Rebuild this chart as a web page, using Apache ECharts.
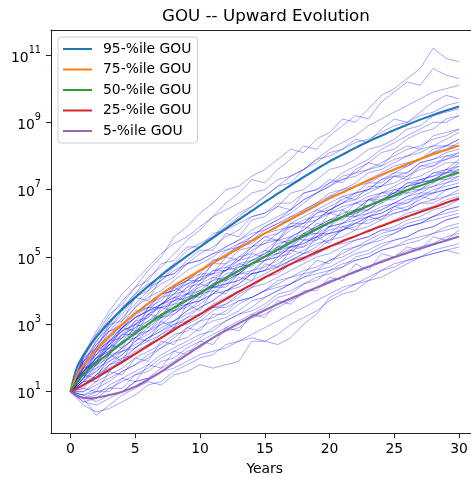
<!DOCTYPE html>
<html>
<head>
<meta charset="utf-8">
<script src="https://cdn.jsdelivr.net/npm/echarts@6/dist/echarts.min.js"></script>
<style>
  html, body { margin: 0; padding: 0; background: #fff; }
  #chart { width: 471px; height: 477px; }
</style>
</head>
<body>
<div id="chart"></div>
<script>
// Simulated GOU paths: log10 of the value at each whole year 0..30
const years = [0,1,2,3,4,5,6,7,8,9,10,11,12,13,14,15,16,17,18,19,20,21,22,23,24,25,26,27,28,29,30];

const paths = [
  [1.0,2.0,2.6,3.2,3.7,4.1,4.6,5.0,5.6,5.9,6.3,6.6,7.0,7.1,7.4,7.6,7.9,8.2,8.1,8.5,8.7,9.1,9.0,9.4,9.8,10.0,10.3,10.6,11.2,10.9,10.8],
  [1.0,1.8,2.5,3.0,3.5,3.9,4.4,4.7,5.1,5.5,5.8,6.2,6.6,6.9,7.3,7.2,7.6,7.9,8.3,8.2,8.6,8.9,9.2,9.1,9.6,9.9,10.2,10.1,10.6,10.4,10.3],
  [1.0,1.9,2.3,2.9,3.3,3.8,4.0,4.5,4.8,5.2,5.4,5.6,6.0,6.3,6.5,6.8,7.1,7.2,7.6,7.8,8.1,8.2,8.5,8.4,8.8,9.1,9.0,9.3,9.6,9.8,9.7],
  [1.0,1.7,2.4,2.8,3.0,3.5,3.9,4.2,4.4,4.8,5.1,5.3,5.6,5.8,6.2,6.3,6.5,6.9,7.0,7.3,7.6,7.7,7.9,8.2,8.3,8.5,8.8,8.9,9.2,9.3,9.4],
  [1.0,1.6,2.0,2.5,2.9,3.2,3.6,3.8,4.1,4.3,4.6,4.9,5.0,5.4,5.6,5.9,6.1,6.3,6.6,6.9,7.1,7.4,7.5,7.8,8.1,8.2,8.5,8.7,8.8,9.1,9.2],
  [1.0,1.8,2.1,2.4,2.9,3.3,3.5,3.9,4.0,4.3,4.6,4.8,5.2,5.3,5.5,5.8,6.0,6.1,6.4,6.6,6.9,7.0,7.2,7.5,7.6,7.8,8.0,8.2,8.3,8.5,8.7],
  [1.0,2.0,2.7,3.1,3.5,3.9,4.2,4.4,4.5,4.8,4.9,5.1,5.3,5.5,5.7,5.8,6.0,6.2,6.4,6.6,6.8,6.9,7.1,7.2,7.4,7.6,7.7,7.9,8.1,8.2,8.4],
  [1.0,1.4,2.0,2.4,2.7,3.1,3.5,3.7,4.1,4.3,4.5,4.9,5.0,5.3,5.4,5.7,5.9,6.2,6.3,6.5,6.8,7.0,7.1,7.3,7.5,7.7,7.8,7.9,8.2,8.3,8.3],
  [1.0,1.6,1.9,2.4,2.8,3.0,3.4,3.6,3.8,4.1,4.4,4.5,4.8,5.0,5.3,5.4,5.7,5.9,6.0,6.3,6.5,6.7,6.9,7.0,7.3,7.4,7.5,7.8,7.9,8.0,8.1],
  [1.0,1.5,2.0,2.2,2.6,3.0,3.2,3.6,3.9,4.0,4.3,4.6,4.7,4.9,5.2,5.4,5.5,5.8,6.0,6.1,6.4,6.6,6.7,6.9,7.1,7.2,7.4,7.6,7.7,7.9,8.0],
  [1.0,1.7,2.2,2.5,2.8,3.0,3.3,3.5,3.6,3.9,4.2,4.4,4.6,4.9,5.0,5.2,5.5,5.6,5.8,6.1,6.3,6.4,6.6,6.8,6.9,7.1,7.3,7.4,7.6,7.8,7.8],
  [1.0,1.4,1.8,2.1,2.5,2.9,3.1,3.4,3.7,3.9,4.0,4.3,4.6,4.7,4.9,5.1,5.4,5.5,5.7,5.9,6.1,6.3,6.4,6.7,6.8,6.9,7.2,7.3,7.4,7.6,7.7],
  [1.0,1.6,1.9,2.3,2.4,2.8,3.1,3.3,3.5,3.8,4.0,4.1,4.4,4.7,4.8,5.0,5.2,5.5,5.6,5.8,6.0,6.2,6.4,6.5,6.7,6.9,7.0,7.2,7.3,7.5,7.6],
  [1.0,1.3,1.8,2.2,2.5,2.7,3.0,3.3,3.4,3.6,3.9,4.2,4.3,4.5,4.8,5.0,5.1,5.3,5.6,5.7,5.9,6.2,6.2,6.4,6.6,6.8,6.9,7.0,7.2,7.4,7.5],
  [1.0,1.2,1.4,1.8,2.1,2.5,2.8,3.1,3.4,3.7,3.9,4.2,4.5,4.6,4.9,5.1,5.3,5.4,5.7,5.9,6.1,6.2,6.4,6.7,6.7,6.9,7.1,7.3,7.4,7.5,7.7],
  [1.0,1.5,1.8,2.0,2.3,2.6,2.9,3.2,3.4,3.5,3.8,4.1,4.2,4.5,4.6,4.9,5.0,5.3,5.4,5.6,5.9,6.0,6.2,6.3,6.5,6.6,6.8,7.0,7.1,7.2,7.4],
  [1.0,1.4,1.6,2.0,2.3,2.6,2.8,3.0,3.3,3.6,3.7,3.9,4.2,4.3,4.6,4.7,4.9,5.2,5.3,5.5,5.7,5.8,6.1,6.2,6.3,6.5,6.7,6.8,7.0,7.1,7.2],
  [1.0,1.3,1.7,1.9,2.1,2.5,2.7,3.0,3.1,3.4,3.6,3.9,4.0,4.2,4.5,4.6,4.8,5.0,5.2,5.4,5.5,5.8,5.9,6.1,6.2,6.4,6.5,6.7,6.9,7.0,7.1],
  [1.0,1.2,1.5,1.9,2.2,2.3,2.6,2.9,3.1,3.3,3.5,3.7,4.0,4.1,4.3,4.5,4.7,4.9,5.1,5.2,5.5,5.6,5.8,5.9,6.1,6.3,6.4,6.6,6.7,6.8,7.0],
  [1.0,1.1,1.5,1.7,1.9,2.3,2.5,2.7,3.0,3.2,3.3,3.6,3.8,4.0,4.2,4.4,4.5,4.8,4.9,5.1,5.3,5.5,5.6,5.8,5.9,6.1,6.3,6.4,6.5,6.7,6.8],
  [1.0,1.3,1.4,1.6,2.0,2.1,2.4,2.6,2.9,3.0,3.2,3.5,3.6,3.8,4.1,4.2,4.4,4.6,4.8,5.0,5.1,5.3,5.5,5.6,5.8,5.9,6.1,6.2,6.4,6.5,6.7],
  [1.0,1.0,1.3,1.5,1.7,2.0,2.2,2.4,2.7,2.8,3.1,3.2,3.4,3.7,3.8,4.0,4.3,4.4,4.6,4.7,4.9,5.1,5.3,5.4,5.6,5.7,5.9,6.0,6.2,6.3,6.4],
  [1.0,0.9,1.1,1.3,1.6,1.8,2.0,2.3,2.5,2.6,2.9,3.1,3.2,3.4,3.7,3.8,4.0,4.2,4.4,4.6,4.7,4.9,5.1,5.2,5.4,5.5,5.6,5.8,5.9,6.1,6.2],
  [1.0,0.8,0.9,1.2,1.4,1.6,1.8,2.1,2.3,2.5,2.7,2.8,3.1,3.3,3.4,3.6,3.9,4.0,4.2,4.4,4.5,4.7,4.9,5.0,5.2,5.3,5.5,5.6,5.7,5.9,6.0],
  [1.0,0.7,0.6,0.8,1.0,1.3,1.4,1.7,1.9,2.2,2.3,2.6,2.8,2.9,3.2,3.3,3.5,3.7,3.9,4.1,4.3,4.4,4.6,4.7,4.9,5.0,5.2,5.3,5.4,5.6,5.7],
  [1.0,0.6,0.4,0.5,0.7,0.9,1.2,1.3,1.6,1.8,2.0,2.1,2.4,2.5,2.7,2.9,3.1,3.3,3.5,3.7,3.9,4.1,4.2,4.4,4.6,4.7,4.9,5.0,5.2,5.3,5.4],
  [1.0,0.8,0.3,0.6,0.9,1.1,1.3,1.2,1.5,1.6,1.8,1.7,1.8,1.9,2.5,2.5,2.4,2.6,3.0,3.3,3.8,4.0,4.2,4.3,4.6,4.8,4.9,5.0,5.1,5.2,5.1],
  [1.0,1.7,2.1,2.6,2.9,3.2,3.4,3.6,3.8,3.9,4.1,4.3,4.4,4.6,4.8,4.9,5.1,5.2,5.5,5.6,5.8,5.9,6.0,6.2,6.3,6.5,6.6,6.8,6.9,7.0,7.1],
  [1.0,1.2,1.5,1.8,2.0,2.3,2.6,2.8,3.1,3.4,3.7,3.9,4.3,4.5,4.8,5.0,5.3,5.6,5.8,6.1,6.4,6.6,6.9,7.0,7.3,7.5,7.7,7.9,8.1,8.3,8.5],
  [1.0,1.9,2.5,2.9,3.4,3.8,4.1,4.3,4.6,4.8,4.9,5.1,5.2,5.4,5.5,5.7,5.8,5.9,6.1,6.2,6.3,6.5,6.6,6.7,6.9,7.0,7.1,7.2,7.3,7.5,7.5],
  [1.0,1.6,2.0,2.3,2.7,2.9,3.3,3.6,3.9,4.2,4.4,4.8,5.1,5.3,5.6,5.9,6.1,6.4,6.7,6.9,7.2,7.5,7.7,7.9,8.2,8.4,8.6,8.8,9.0,9.0,9.2],
  [1.0,1.0,1.2,1.4,1.6,1.8,2.1,2.3,2.6,2.9,3.1,3.4,3.6,3.9,4.1,4.4,4.6,4.9,5.1,5.3,5.6,5.8,6.0,6.2,6.4,6.6,6.8,6.9,7.1,7.3,7.4],
  [1.0,1.6,2.2,2.5,2.9,3.2,3.4,3.5,3.7,3.8,3.9,4.1,4.2,4.3,4.5,4.6,4.7,4.9,5.0,5.1,5.3,5.4,5.5,5.6,5.8,5.8,5.9,6.0,6.1,6.2,6.3],
  [1.0,0.9,1.0,1.1,1.3,1.5,1.7,2.0,2.2,2.4,2.6,2.9,3.1,3.3,3.5,3.8,4.0,4.2,4.5,4.6,4.9,5.0,5.2,5.4,5.5,5.7,5.9,6.0,6.2,6.4,6.5],
  [1.0,1.8,2.3,2.7,3.1,3.5,3.8,4.0,4.3,4.6,4.8,5.0,5.3,5.5,5.8,6.0,6.2,6.4,6.7,6.9,7.1,7.3,7.5,7.6,7.8,8.0,8.2,8.3,8.5,8.6,8.8],
  [1.0,1.5,1.7,2.1,2.2,2.7,2.8,3.2,3.3,3.6,3.7,4.1,4.1,4.5,4.5,4.9,5.0,5.3,5.3,5.7,5.7,6.0,6.1,6.3,6.4,6.6,6.6,6.9,6.9,7.2,7.3],
  [1.0,1.7,1.9,2.5,2.6,3.1,3.2,3.6,3.7,4.1,4.2,4.6,4.6,5.0,5.1,5.5,5.5,5.9,5.9,6.3,6.4,6.6,6.8,7.0,7.1,7.4,7.4,7.7,7.7,8.0,8.0],
  [1.0,0.9,0.7,0.9,1.0,1.3,1.4,1.6,1.7,1.9,2.1,2.2,2.3,2.5,2.6,2.5,2.7,3.0,3.2,3.4,3.7,3.9,4.0,4.3,4.4,4.6,4.8,5.0,5.1,5.2,5.3],
  [1.0,1.9,2.4,2.8,3.2,3.6,4.0,4.3,4.7,5.0,5.3,5.6,5.9,6.2,6.5,6.8,7.1,7.4,7.6,7.9,8.2,8.4,8.6,8.9,9.1,9.3,9.5,9.7,9.9,10.0,10.1],
  [1.0,1.5,1.9,2.3,2.6,2.8,3.0,3.3,3.6,3.7,3.9,4.2,4.4,4.6,4.8,5.0,5.2,5.4,5.6,5.8,6.0,6.2,6.3,6.5,6.7,6.8,7.0,7.1,7.3,7.4,7.6],
  [1.0,2.0,2.3,3.0,3.1,3.8,3.7,4.4,4.5,4.9,5.2,5.2,5.7,5.6,6.1,6.2,6.5,6.4,6.9,7.0,7.3,7.2,7.6,7.8,7.7,8.1,8.3,8.2,8.6,8.7,8.8],
  [1.0,1.4,2.2,2.3,2.9,2.8,3.5,3.5,4.1,3.9,4.5,4.5,5.0,4.9,5.3,5.6,5.5,6.0,6.0,6.4,6.3,6.8,6.7,7.1,7.1,7.4,7.3,7.7,7.8,7.9,8.1],
  [1.0,1.5,1.4,2.1,1.9,2.6,2.5,3.1,2.9,3.6,3.4,4.0,3.9,4.4,4.3,4.8,4.7,5.2,5.1,5.6,5.4,5.9,5.8,6.2,6.1,6.5,6.4,6.8,6.7,7.0,7.1],
  [1.0,1.1,1.0,1.6,1.5,2.0,1.9,2.5,2.4,2.9,2.8,3.3,3.3,3.6,3.8,4.0,4.2,4.4,4.5,4.9,4.8,5.2,5.3,5.5,5.7,5.8,6.0,6.1,6.2,6.4,6.5],
  [1.0,1.7,1.8,2.4,2.3,3.0,2.9,3.5,3.4,3.9,3.8,4.4,4.3,4.8,4.7,5.2,5.1,5.6,5.5,6.0,5.9,6.4,6.2,6.7,6.6,7.0,6.9,7.3,7.2,7.6,7.5],
  [1.0,2.1,2.7,3.3,3.6,4.1,4.3,4.8,4.9,5.3,5.3,5.7,5.8,6.0,6.2,6.3,6.6,6.6,6.9,7.0,7.2,7.3,7.4,7.6,7.7,7.9,8.0,8.1,8.3,8.3,8.5],
  [1.0,0.8,1.0,1.0,1.4,1.3,1.8,1.7,2.2,2.1,2.5,2.4,2.9,2.8,3.3,3.2,3.7,3.6,4.0,4.0,4.4,4.3,4.8,4.6,5.1,5.0,5.3,5.2,5.6,5.5,5.8],
  [1.0,1.6,2.0,2.2,2.7,2.7,3.3,3.2,3.8,3.7,4.2,4.1,4.7,4.6,5.1,5.0,5.5,5.4,5.9,5.8,6.3,6.2,6.6,6.5,6.9,6.9,7.2,7.2,7.5,7.5,7.8],
  [1.0,1.3,1.3,1.8,1.9,2.2,2.4,2.7,2.9,3.2,3.5,3.7,4.0,4.2,4.5,4.6,5.0,5.1,5.5,5.5,5.9,6.0,6.3,6.4,6.7,6.8,7.1,7.2,7.5,7.6,7.9],
  [1.0,1.9,2.2,2.8,2.9,3.4,3.5,3.9,4.0,4.2,4.3,4.5,4.6,4.8,4.9,5.0,5.2,5.3,5.4,5.6,5.7,5.8,6.0,6.0,6.2,6.3,6.4,6.6,6.6,6.8,6.9],
  [1.0,2.1,2.8,3.4,3.9,4.3,4.7,5.1,5.4,5.6,5.9,6.2,6.4,6.6,6.9,7.0,7.3,7.4,7.6,7.9,8.0,8.2,8.4,8.5,8.7,8.9,9.0,9.2,9.3,9.5,9.6],
  [1.0,1.4,1.9,2.1,2.5,2.6,3.0,3.2,3.5,3.6,3.9,4.0,4.4,4.5,4.8,4.9,5.3,5.3,5.7,5.7,6.1,6.1,6.4,6.4,6.7,6.7,7.0,7.0,7.3,7.3,7.5],
  [1.0,0.7,0.8,1.1,1.1,1.5,1.6,1.9,2.0,2.3,2.5,2.7,2.9,3.1,3.3,3.5,3.8,3.9,4.2,4.3,4.6,4.7,5.0,5.1,5.3,5.5,5.6,5.8,5.9,6.1,6.2],
  [1.0,1.6,2.1,2.5,2.8,3.2,3.4,3.8,3.9,4.3,4.3,4.8,4.8,5.2,5.3,5.6,5.7,6.0,6.2,6.4,6.6,6.8,6.9,7.2,7.2,7.5,7.5,7.8,7.9,8.1,8.2],
  [1.0,1.3,1.6,2.0,2.2,2.4,2.6,2.8,3.0,3.1,3.3,3.5,3.5,3.7,3.8,4.0,4.1,4.2,4.4,4.5,4.6,4.8,4.9,5.0,5.2,5.3,5.4,5.5,5.7,5.8,5.9]
];

// Percentile curves (log10 of value)
const curveYears = [0,0.5,1,1.5,2,3,4,5,6,7,8,9,10,11,12,13,14,15,16,17,18,19,20,21,22,23,24,25,26,27,28,29,30];
const p95 = [1.0,1.72,2.08,2.37,2.62,3.06,3.45,3.8,4.13,4.45,4.75,5.03,5.3,5.57,5.84,6.11,6.37,6.63,6.88,7.13,7.37,7.61,7.84,8.04,8.24,8.43,8.6,8.77,8.93,9.08,9.22,9.35,9.47];
const p75 = [1.0,1.5,1.78,2.02,2.24,2.64,3.0,3.32,3.62,3.9,4.15,4.38,4.6,4.82,5.04,5.26,5.48,5.7,5.91,6.12,6.33,6.54,6.74,6.92,7.1,7.27,7.44,7.6,7.76,7.91,8.05,8.18,8.31];
const p50 = [1.0,1.3,1.52,1.7,1.86,2.15,2.45,2.74,3.01,3.27,3.5,3.72,3.93,4.15,4.37,4.59,4.8,5.01,5.22,5.43,5.63,5.83,6.02,6.19,6.36,6.52,6.68,6.83,6.98,7.12,7.26,7.39,7.52];
const p25 = [1.0,1.1,1.2,1.31,1.42,1.65,1.88,2.12,2.36,2.6,2.84,3.07,3.3,3.53,3.75,3.97,4.18,4.39,4.59,4.79,4.97,5.15,5.31,5.47,5.62,5.77,5.92,6.06,6.2,6.34,6.47,6.61,6.74];
const p5  = [1.0,0.88,0.82,0.8,0.82,0.9,1.0,1.15,1.36,1.59,1.85,2.1,2.36,2.6,2.82,3.03,3.23,3.42,3.6,3.77,3.93,4.09,4.25,4.41,4.56,4.71,4.85,4.99,5.12,5.25,5.37,5.49,5.61];

const curveNames = ['95-%ile GOU', '75-%ile GOU', '50-%ile GOU', '25-%ile GOU', '5-%ile GOU'];
const curveColors = ['#1f77b4', '#ff7f0e', '#2ca02c', '#d62728', '#9467bd'];

const yTicks = [1e1, 1e3, 1e5, 1e7, 1e9, 1e11];
const xTicks = [0, 5, 10, 15, 20, 25, 30];

const FONT = 'DejaVu Sans';
const SPINE = '#222';

const toPairs = (xs, exps) => xs.map((x, i) => [x, Math.pow(10, exps[i])]);

const series = [];
paths.forEach((p, k) => {
  series.push({
    name: 'path' + k,
    type: 'line',
    data: toPairs(years, p),
    showSymbol: false,
    symbol: 'none',
    silent: true,
    lineStyle: { color: '#0000ff', width: 1, opacity: 0.35 },
    z: 2
  });
});
[p95, p75, p50, p25, p5].forEach((c, k) => {
  series.push({
    name: curveNames[k],
    type: 'line',
    data: toPairs(curveYears, c),
    showSymbol: false,
    symbol: 'none',
    smooth: 0.3,
    color: curveColors[k],
    lineStyle: { color: curveColors[k], width: 2.1 },
    z: 5
  });
});

const chart = echarts.init(document.getElementById('chart'), null, { renderer: 'canvas' });
chart.setOption({
  animation: false,
  backgroundColor: '#fff',
  textStyle: { fontFamily: FONT },
  title: {
    text: 'GOU -- Upward Evolution',
    left: 162,
    top: 8,
    padding: 0,
    textStyle: { fontFamily: FONT, fontSize: 16.7, fontWeight: 'normal', color: '#000' }
  },
  legend: {
    data: curveNames,
    orient: 'vertical',
    left: 58,
    top: 37,
    icon: 'rect',
    itemWidth: 29,
    itemHeight: 2,
    itemGap: 6.5,
    padding: [5, 6, 5, 5],
    backgroundColor: 'rgba(255,255,255,0.8)',
    borderColor: '#cccccc',
    borderWidth: 1,
    borderRadius: 3,
    selectedMode: false,
    textStyle: { fontFamily: FONT, fontSize: 13.9, color: '#000', padding: [0, 0, 0, 6] }
  },
  grid: {
    left: 51,
    top: 30,
    width: 427.5,
    height: 403.3,
    show: false,
    containLabel: false,
    outerBoundsMode: 'none'
  },
  xAxis: [{
    type: 'value',
    min: -1.5,
    max: 31.5,
    name: 'Years',
    nameLocation: 'middle',
    nameGap: 29,
    nameTextStyle: { fontFamily: FONT, fontSize: 13.9, color: '#000' },
    axisLine: { show: true, onZero: false, lineStyle: { color: SPINE, width: 1 } },
    axisTick: { show: true, customValues: xTicks, length: 5, inside: false, lineStyle: { color: SPINE } },
    axisLabel: { customValues: xTicks, fontFamily: FONT, fontSize: 13.9, color: '#000', margin: 9 },
    splitLine: { show: false }
  }, {
    // top spine of the axes box
    type: 'value',
    position: 'top',
    min: -1.5,
    max: 31.5,
    axisLine: { show: true, onZero: false, lineStyle: { color: SPINE, width: 1 } },
    axisTick: { show: false },
    axisLabel: { show: false },
    splitLine: { show: false }
  }],
  yAxis: {
    type: 'log',
    logBase: 10,
    min: 0.581,
    max: 5.52e11,
    axisLine: { show: true, onZero: false, lineStyle: { color: SPINE, width: 1 } },
    axisTick: { show: true, customValues: yTicks, length: 5, inside: false, lineStyle: { color: SPINE } },
    axisLabel: {
      customValues: yTicks,
      margin: 10,
      formatter: function (v) {
        const e = Math.round(Math.log10(v));
        return '{b|10}{e|' + e + '}';
      },
      rich: {
        b: { fontFamily: FONT, fontSize: 13.9, color: '#000', verticalAlign: 'bottom', padding: [6, 0, 0, 0] },
        e: { fontFamily: FONT, fontSize: 9.7, color: '#000', verticalAlign: 'top' }
      }
    },
    splitLine: { show: false },
    minorTick: { show: false }
  },
  series: series
});
</script>
</body>
</html>
